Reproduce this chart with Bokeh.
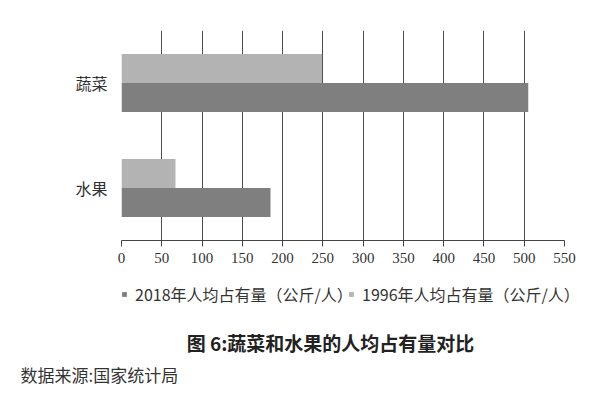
from bokeh.plotting import figure
from bokeh.layouts import column
from bokeh.models import (Range1d, FixedTicker, Label, Legend, LegendItem, ColumnDataSource)
from bokeh.embed import file_html
from bokeh.resources import INLINE

# ---- data ----
categories = ["水果", "蔬菜"]          # bottom to top
values_1996 = [67, 249]
values_2018 = [185, 505]
series_names = ["2018年人均占有量（公斤/人）", "1996年人均占有量（公斤/人）"]
x_ticks = [0, 50, 100, 150, 200, 250, 300, 350, 400, 450, 500, 550]
title_text = "图 6:蔬菜和水果的人均占有量对比"
source_text = "数据来源:国家统计局"

CJK = "Noto Sans CJK SC"
DARK = "#7f7f7f"
LIGHT = "#b3b3b3"
W = 592

centers = [i + 0.5 for i in range(len(categories))]
off = 0.138
src = ColumnDataSource(dict(
    y96=[c + off for c in centers],
    y18=[c - off for c in centers],
    v96=values_1996,
    v18=values_2018,
))

p = figure(width=W, height=272, output_backend="svg", toolbar_location=None,
           x_range=Range1d(0, 550), y_range=Range1d(0, len(categories)),
           min_border_left=121, min_border_right=W - 564, min_border_top=30,
           min_border_bottom=32)
p.outline_line_color = None
p.frame_align = False

r18 = p.hbar(y="y18", left=0, right="v18", height=0.276, source=src,
             fill_color=DARK, line_color=None)
r96 = p.hbar(y="y96", left=0, right="v96", height=0.276, source=src,
             fill_color=LIGHT, line_color=None)

# axes
p.xaxis.ticker = FixedTicker(ticks=x_ticks)
p.xaxis.axis_line_color = "#444444"
p.xaxis.major_tick_line_color = "#444444"
p.xaxis.major_tick_out = 6
p.xaxis.major_tick_in = 0
p.xaxis.minor_tick_line_color = None
p.xaxis.major_label_text_font = "Liberation Serif"
p.xaxis.major_label_text_font_size = "15px"
p.xaxis.major_label_text_color = "#333333"
p.xaxis.major_label_standoff = 6

p.yaxis.ticker = FixedTicker(ticks=centers)
p.yaxis.major_label_overrides = {c: n for c, n in zip(centers, categories)}
p.yaxis.axis_line_color = None
p.yaxis.major_tick_line_color = None
p.yaxis.minor_tick_line_color = None
p.yaxis.major_label_text_font = CJK
p.yaxis.major_label_text_font_size = "16px"
p.yaxis.major_label_text_color = "#333333"
p.yaxis.major_label_standoff = 8

p.xgrid.ticker = FixedTicker(ticks=x_ticks)
p.xgrid.grid_line_color = "#4d4d4d"
p.xgrid.grid_line_width = 1
p.ygrid.grid_line_color = None

# ---- lower panel: legend, caption, source (pixel-like coordinates) ----
H2 = 128
top2 = 272
q = figure(width=W, height=H2, output_backend="svg", toolbar_location=None,
           x_range=Range1d(0, W), y_range=Range1d(top2 + H2, top2),
           min_border=0, x_axis_type=None, y_axis_type=None)
q.outline_line_color = None
q.frame_align = False
q.xgrid.grid_line_color = None
q.ygrid.grid_line_color = None

# legend proxies share the series styling; hidden so that they draw nothing here
k18 = q.hbar(y="y18", left=0, right="v18", height=0.276, source=src,
             fill_color=DARK, line_color=None, visible=False)
k96 = q.hbar(y="y96", left=0, right="v96", height=0.276, source=src,
             fill_color=LIGHT, line_color=None, visible=False)

legend_style = dict(orientation="horizontal",
                    label_text_font=CJK, label_text_font_size="16px",
                    label_text_color="#333333",
                    glyph_width=6, glyph_height=6, label_standoff=8,
                    spacing=0, padding=0, margin=0, label_height=20,
                    inactive_fill_alpha=0,
                    border_line_color=None, background_fill_alpha=0)
legend_x = [121, 348]
for name, rend, lx in zip(series_names, [k18, k96], legend_x):
    q.add_layout(Legend(items=[LegendItem(label=name, renderers=[rend], index=0)],
                        location=(lx, (top2 + H2) - 306), **legend_style), "center")

q.add_layout(Label(x=330, y=342, text=title_text, text_font=CJK,
                   text_font_size="19px", text_font_style="bold",
                   text_color="#222222", text_align="center",
                   text_baseline="middle"))
q.add_layout(Label(x=20, y=374, text=source_text, text_font=CJK,
                   text_font_size="17px", text_color="#333333",
                   text_align="left", text_baseline="middle"))

layout = column(p, q, spacing=0)
open("out.html", "w").write(file_html(layout, INLINE))
